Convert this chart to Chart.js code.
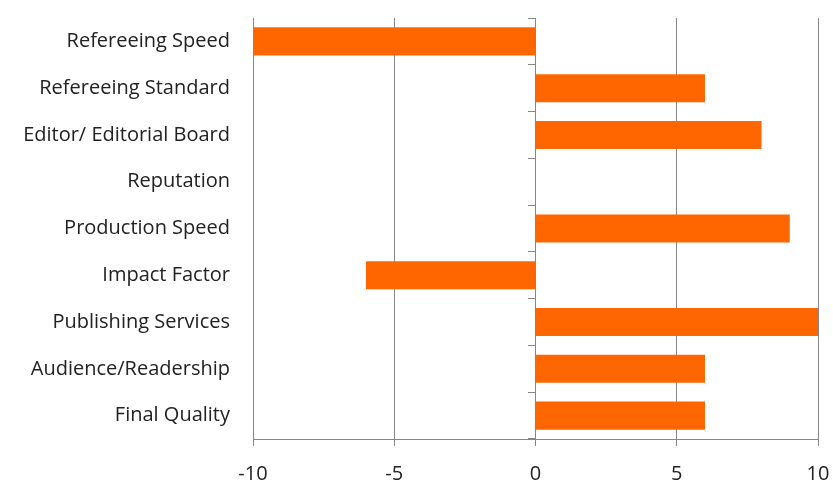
<!DOCTYPE html>
<html>
<head>
<meta charset="utf-8">
<script src="https://cdn.jsdelivr.net/npm/chart.js@4/dist/chart.umd.min.js"></script>
<style>
  html, body { margin: 0; padding: 0; background: #fff; }
  #wrap { width: 833px; height: 486px; }
</style>
</head>
<body>
<div id="wrap"><canvas id="chart"></canvas></div>
<script>
// categories and values
const categories = [
    'Refereeing Speed',
    'Refereeing Standard',
    'Editor/ Editorial Board',
    'Reputation',
    'Production Speed',
    'Impact Factor',
    'Publishing Services',
    'Audience/Readership',
    'Final Quality'
];
const scores = [-10, 6, 8, 0, 9, -6, 10, 6, 6];
const xTicks = [-10, -5, 0, 5, 10];

const gridGrey = '#868686';
const labelFont = { family: 'Open Sans', size: 20 };

new Chart(document.getElementById('chart').getContext('2d'), {
    type: 'bar',
    data: {
        labels: categories,
        datasets: [{
            data: scores,
            backgroundColor: '#ff6600',
            borderWidth: 0,
            barPercentage: 1,
            categoryPercentage: 0.6,
            yAxisID: 'y'
        }]
    },
    options: {
        indexAxis: 'y',
        responsive: true,
        maintainAspectRatio: false,
        animation: false,
        layout: { padding: { top: 18, right: 15, left: 0, bottom: 0 } },
        plugins: { legend: { display: false }, tooltip: { enabled: false } },
        scales: {
            x: {
                min: -10,
                max: 10,
                afterBuildTicks: axis => { axis.ticks = xTicks.map(v => ({ value: v })); },
                afterFit: axis => {
                    axis.height = 47;
                    axis.paddingLeft = 0;
                    axis.paddingRight = 0;
                },
                grid: { color: gridGrey, tickLength: 7, lineWidth: 1 },
                border: { color: gridGrey },
                ticks: { color: '#222', padding: 16, font: labelFont }
            },
            // the zero line with short marks between categories
            y: {
                type: 'category',
                position: { x: 0 },
                offset: true,
                grid: { drawOnChartArea: false, color: gridGrey, tickLength: 7, offset: true },
                border: { color: gridGrey },
                ticks: { display: false }
            },
            // category names on the left
            names: {
                type: 'category',
                axis: 'y',
                position: 'left',
                offset: true,
                labels: categories,
                afterFit: axis => {
                    axis.width = 253;
                    axis.paddingTop = 0;
                    axis.paddingBottom = 0;
                },
                grid: { display: false },
                border: { display: false },
                ticks: { color: '#222', padding: 15, font: labelFont }
            }
        }
    }
});
</script>
</body>
</html>
